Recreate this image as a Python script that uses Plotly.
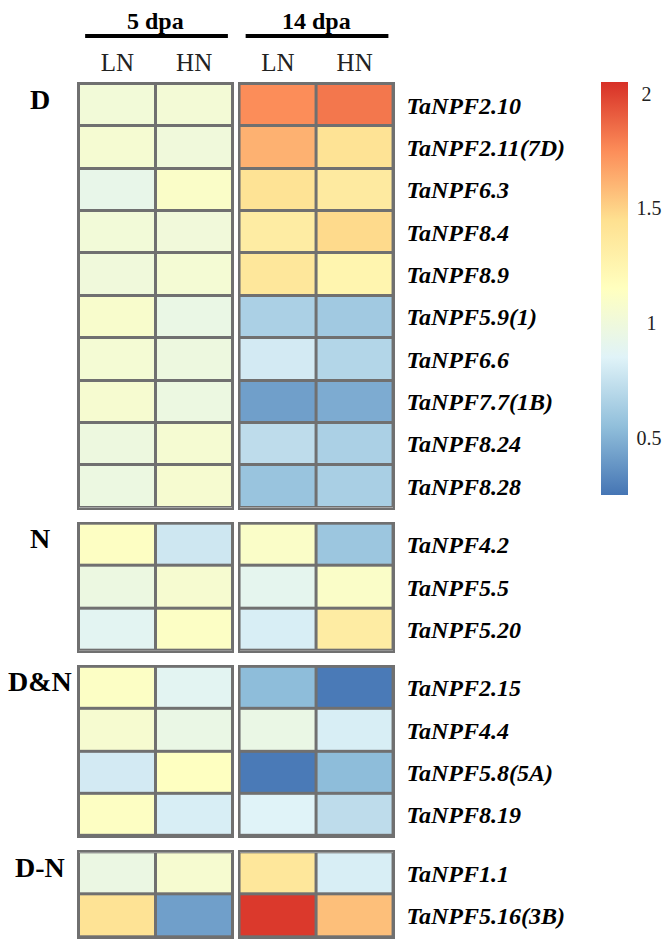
import plotly.graph_objects as go
from plotly.subplots import make_subplots

# data
genes = [
    "TaNPF2.10", "TaNPF2.11(7D)", "TaNPF6.3", "TaNPF8.4", "TaNPF8.9",
    "TaNPF5.9(1)", "TaNPF6.6", "TaNPF7.7(1B)", "TaNPF8.24", "TaNPF8.28",
    "TaNPF4.2", "TaNPF5.5", "TaNPF5.20",
    "TaNPF2.15", "TaNPF4.4", "TaNPF5.8(5A)", "TaNPF8.19",
    "TaNPF1.1", "TaNPF5.16(3B)",
]
groups = ["D", "N", "D&N", "D-N"]
group_sizes = [10, 3, 4, 2]
treatments = ["LN", "HN"]
stages = ["5 dpa", "14 dpa"]

dpa5_ln = [1.02, 1.05, 0.93, 1.02, 1.00, 1.08, 1.04, 1.06, 0.98, 0.97,
           1.13, 0.97, 0.88,
           1.12, 1.06, 0.80, 1.13,
           0.96, 1.42]
dpa5_hn = [1.03, 1.00, 1.10, 1.01, 1.04, 0.95, 0.98, 0.97, 1.05, 1.06,
           0.78, 1.06, 1.12,
           0.88, 0.95, 1.14, 0.82,
           1.06, 0.42]
dpa14_ln = [1.75, 1.62, 1.42, 1.33, 1.38, 0.65, 0.80, 0.42, 0.72, 0.58,
            1.10, 0.90, 0.82,
            0.54, 0.95, 0.27, 0.85,
            1.38, 2.02]
dpa14_hn = [1.82, 1.42, 1.35, 1.47, 1.25, 0.61, 0.68, 0.47, 0.65, 0.64,
            0.59, 1.10, 1.33,
            0.27, 0.82, 0.54, 0.72,
            0.82, 1.57]

cbar_ticks = [0.5, 1, 1.5, 2]

# pheatmap-style RdYlBu ramp
ramp = ["#4575B4", "#91BFDB", "#E0F3F8", "#FFFFBF", "#FEE090", "#FC8D59", "#D73027"]
colorscale = [[i / (len(ramp) - 1), c] for i, c in enumerate(ramp)]

border = "#707070"
font_family = "Liberation Serif, Times New Roman, serif"

fig = make_subplots(
    rows=4,
    cols=2,
    row_heights=group_sizes,
    vertical_spacing=0.0188,
    horizontal_spacing=0.0223,
)

start = 0
for r, (grp, n) in enumerate(zip(groups, group_sizes), start=1):
    sub_genes = genes[start:start + n]
    for c, (ln, hn) in enumerate([(dpa5_ln, dpa5_hn), (dpa14_ln, dpa14_hn)], start=1):
        z = [[ln[i], hn[i]] for i in range(start, start + n)]
        fig.add_trace(
            go.Heatmap(
                z=z,
                x=treatments,
                y=sub_genes,
                coloraxis="coloraxis",
                xgap=3,
                ygap=3,
            ),
            row=r,
            col=c,
        )
        fig.update_yaxes(
            autorange="reversed",
            automargin=False,
            showgrid=False,
            zeroline=False,
            showline=True,
            mirror=True,
            linecolor=border,
            linewidth=1.5,
            ticks="",
            showticklabels=(c == 2),
            side="right" if c == 2 else "left",
            tickmode="array",
            tickvals=sub_genes,
            ticktext=["<b><i>%s</i></b>" % g for g in sub_genes],
            tickfont=dict(size=24, color="black", family=font_family),
            ticklabelstandoff=7,
            row=r,
            col=c,
        )
        fig.update_xaxes(
            automargin=False,
            showgrid=False,
            zeroline=False,
            showline=True,
            mirror=True,
            linecolor=border,
            linewidth=1.5,
            ticks="",
            side="top",
            showticklabels=(r == 1),
            tickfont=dict(size=25, color="#222222", family=font_family),
            ticklabelstandoff=1,
            row=r,
            col=c,
        )

    # group label next to the first row of the block
    yref = "y" if r == 1 else "y%d" % (2 * r - 1)
    fig.add_annotation(
        x=-0.1242,
        xref="paper",
        xanchor="center",
        y=sub_genes[0],
        yref=yref,
        yanchor="middle",
        yshift=6,
        text="<b>%s</b>" % grp,
        showarrow=False,
        font=dict(size=28, color="black", family=font_family),
    )
    start += n

# stage headers with bars
for i, stage in enumerate(stages):
    xref = "x domain" if i == 0 else "x2 domain"
    fig.add_annotation(
        x=0.5,
        xref=xref,
        xanchor="center",
        y=1.0739,
        yref="paper",
        yanchor="middle",
        borderpad=0,
        text="<b>%s</b>" % stage,
        showarrow=False,
        font=dict(size=24, color="black", family=font_family),
    )
    fig.add_shape(
        type="line",
        xref=xref,
        yref="paper",
        x0=0.04,
        x1=0.97,
        y0=1.0563,
        y1=1.0563,
        line=dict(color="black", width=4),
    )

# the page body adds an 8px offset, so the figure is 8px smaller than the window
fig.update_layout(
    width=662,
    height=932,
    margin=dict(l=71, r=277, t=76, b=3, autoexpand=False),
    plot_bgcolor=border,
    paper_bgcolor="white",
    font=dict(family=font_family, color="black"),
    showlegend=False,
    coloraxis=dict(
        colorscale=colorscale,
        cmin=0.25,
        cmax=2.05,
        colorbar=dict(
            x=1.662,
            xanchor="left",
            xpad=0,
            y=1.0023,
            yanchor="top",
            ypad=0,
            yref="paper",
            lenmode="pixels",
            len=413,
            thicknessmode="pixels",
            thickness=27,
            outlinewidth=0,
            ticks="outside",
            ticklen=5,
            tickcolor="rgba(0,0,0,0)",
            tickvals=cbar_ticks,
            ticktext=["0.5", "\u00a0\u00a01", "1.5", "\u00a02"],
            tickfont=dict(size=20, color="#222222", family=font_family),
        ),
    ),
)

fig.write_html("out.html")
